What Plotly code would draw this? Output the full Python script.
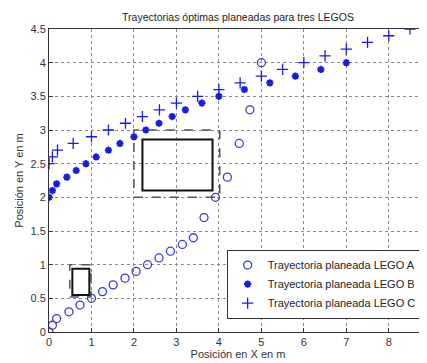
import plotly.graph_objects as go

# Trajectory A (circles)
a_x = [0, 0.08, 0.18, 0.47, 0.73, 1.0, 1.26, 1.51, 1.79, 2.05, 2.32, 2.59, 2.86, 3.14, 3.40, 3.65, 3.92, 4.20, 4.48, 4.73, 5.0]
a_y = [0, 0.1, 0.2, 0.3, 0.4, 0.5, 0.6, 0.7, 0.8, 0.9, 1.0, 1.1, 1.2, 1.3, 1.4, 1.7, 2.0, 2.3, 2.8, 3.3, 4.0]
# Trajectory B (asterisks)
b_x = [0, 0.08, 0.18, 0.42, 0.64, 0.87, 1.11, 1.40, 1.67, 2.0, 2.28, 2.59, 2.90, 3.21, 3.60, 4.0, 4.6, 5.2, 5.8, 6.4, 7.0]
b_y = [2.0, 2.1, 2.2, 2.3, 2.4, 2.5, 2.6, 2.7, 2.8, 2.9, 3.0, 3.1, 3.2, 3.3, 3.4, 3.5, 3.6, 3.7, 3.8, 3.9, 4.0]
# Trajectory C (plus)
c_x = [0, 0.08, 0.2, 0.57, 1.0, 1.4, 1.8, 2.2, 2.6, 3.0, 3.5, 4.0, 4.5, 5.0, 5.5, 6.0, 6.5, 7.0, 7.5, 8.0, 8.5]
c_y = [2.5, 2.6, 2.7, 2.8, 2.9, 3.0, 3.1, 3.2, 3.3, 3.4, 3.5, 3.6, 3.7, 3.8, 3.9, 4.0, 4.1, 4.2, 4.3, 4.4, 4.5]

series_names = ["Trayectoria planeada LEGO A", "Trayectoria planeada LEGO B", "Trayectoria planeada LEGO C"]

# Obstacles: (x0, y0, x1, y1) for solid body and dashed safety zone
obst_solid = [(0.55, 0.55, 0.95, 0.94), (2.2, 2.1, 3.85, 2.86)]
obst_zone = [(0.49, 0.52, 0.99, 1.0), (2.0, 2.0, 4.02, 3.0)]

x_ticks = [0, 1, 2, 3, 4, 5, 6, 7, 8]
y_ticks = [0, 0.5, 1, 1.5, 2, 2.5, 3, 3.5, 4, 4.5]
y_tick_text = ["0", "0.5", "1", "1.5", "2", "2.5", "3", "3.5", "4", "4.5"]

blue = "#1a1ae6"
font = "Liberation Sans, Arial, sans-serif"

fig = go.Figure()
fig.add_trace(go.Scatter(x=a_x, y=a_y, mode="markers", name=series_names[0],
                         marker=dict(symbol="circle-open", size=8, color="#3a3ad0", line=dict(width=1.3))))
fig.add_trace(go.Scatter(x=b_x, y=b_y, mode="markers", name=series_names[1],
                         marker=dict(symbol="asterisk-open", size=6, color=blue, line=dict(width=2, color=blue))))
fig.add_trace(go.Scatter(x=c_x, y=c_y, mode="markers", name=series_names[2],
                         marker=dict(symbol="cross-thin-open", size=8, color=blue, line=dict(width=1.3, color=blue))))

shapes = []
for (x0, y0, x1, y1) in obst_zone:
    shapes.append(dict(type="rect", xref="x", yref="y", x0=x0, y0=y0, x1=x1, y1=y1,
                       line=dict(color="#555555", width=1.5, dash="dash")))
for (x0, y0, x1, y1) in obst_solid:
    shapes.append(dict(type="rect", xref="x", yref="y", x0=x0, y0=y0, x1=x1, y1=y1,
                       line=dict(color="#111111", width=2)))

grid = dict(showgrid=True, gridcolor="#888888", griddash="dot", gridwidth=1)

# page body has an 8px margin, so the figure is offset by 8px
W, H = 419, 355
fig.update_layout(
    width=W, height=H,
    margin=dict(l=41, r=0, t=21, b=31),
    paper_bgcolor="white", plot_bgcolor="white",
    font=dict(family=font, size=11, color="#333333"),
    title=dict(text="Trayectorias óptimas planeadas para tres LEGOS", x=0.5, xref="paper",
               y=1 - 9 / H, yanchor="middle", font=dict(size=10.5, color="#222222")),
    shapes=shapes,
    showlegend=True,
    legend=dict(x=0.47, y=0.272, xanchor="left", yanchor="top", bgcolor="white",
                bordercolor="#333333", borderwidth=1, font=dict(size=11, color="#222222"),
                tracegroupgap=0),
    xaxis=dict(range=[0, 8.9], tickvals=x_ticks, ticks="inside", ticklen=4, tickcolor="#333333",
               showline=True, linecolor="#333333", mirror=True, zeroline=False, automargin=False,
               title=dict(text="Posición en X en m", standoff=1, font=dict(size=11)), **grid),
    yaxis=dict(range=[0, 4.5], tickvals=y_ticks, ticktext=y_tick_text, ticks="inside", ticklen=4,
               tickcolor="#333333", showline=True, linecolor="#333333", mirror=False, zeroline=False,
               automargin=False,
               title=dict(text="Posición en Y en m", standoff=4, font=dict(size=11)), **grid),
)

fig.write_html("out.html")
